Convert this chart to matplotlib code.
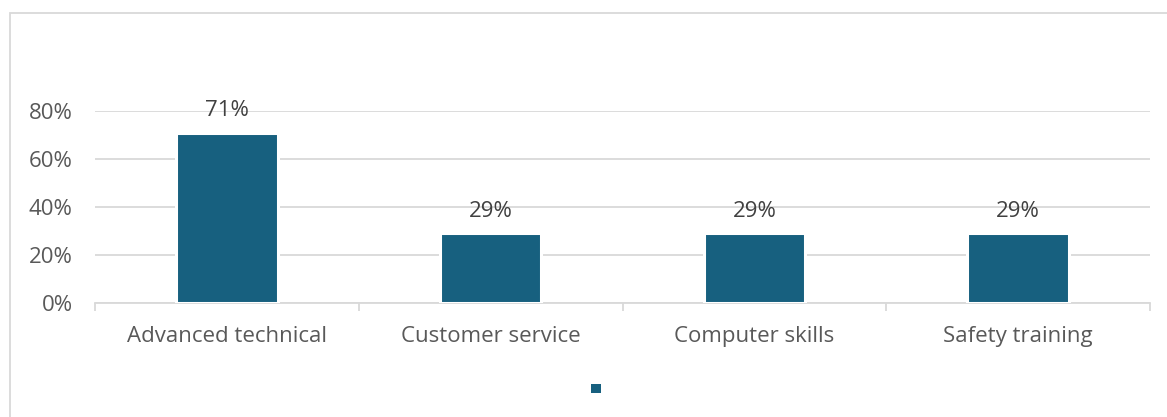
import matplotlib
matplotlib.use("Agg")
import matplotlib.pyplot as plt
from matplotlib.patches import Rectangle, Patch
from matplotlib.ticker import PercentFormatter, FixedLocator

categories = ["Advanced technical", "Customer service", "Computer skills", "Safety training"]
values = [0.71, 0.29, 0.29, 0.29]
y_ticks = [0.0, 0.2, 0.4, 0.6, 0.8]

bar_color = "#17607f"
grid_color = "#d9d9d9"
text_color = "#595959"
label_color = "#404040"

plt.rcParams["font.family"] = ["Open Sans", "DejaVu Sans"]
FS = 16

W, H = 1167, 417
fig = plt.figure(figsize=(W / 100, H / 100), dpi=100)
fig.patch.set_facecolor("white")

# chart-area frame
fig.add_artist(Rectangle((10 / W, -0.1), 1.2, 1 - 13 / H + 0.1, transform=fig.transFigure,
                         fill=False, edgecolor=grid_color, linewidth=1.3))

ax = fig.add_axes([95 / W, 1 - 303 / H, (1150 - 95) / W, (303 - 111) / H])
x = list(range(len(categories)))
bars = ax.bar(x, values, width=0.385, color=bar_color, edgecolor="white",
              linewidth=2.2, zorder=3)

ax.set_xlim(-0.5, len(categories) - 0.5)
ax.set_ylim(0, 0.8)
ax.yaxis.set_major_locator(FixedLocator(y_ticks))
ax.yaxis.set_major_formatter(PercentFormatter(1.0, decimals=0))
ax.grid(axis="y", color=grid_color, linewidth=1.3, zorder=0)
ax.set_axisbelow(True)

for s in ["top", "right", "left"]:
    ax.spines[s].set_visible(False)
ax.spines["bottom"].set_color(grid_color)
ax.spines["bottom"].set_linewidth(1.3)
ax.spines["bottom"].set_zorder(1)

ax.set_xticks(x)
ax.set_xticklabels(categories)
ax.set_xticks([i - 0.5 for i in range(len(categories) + 1)], minor=True)
ax.tick_params(axis="x", which="major", length=0, pad=16.5, labelsize=FS, labelcolor=text_color)
ax.tick_params(axis="x", which="minor", length=6, width=1.3, color=grid_color, direction="out")
ax.tick_params(axis="y", length=0, pad=16, labelsize=FS, labelcolor=text_color)

ax.bar_label(bars, labels=[f"{v:.0%}" for v in values], padding=8,
             fontsize=FS, color=label_color)

fig.legend(handles=[Patch(facecolor=bar_color, edgecolor="none")], labels=[""],
           loc="center", bbox_to_anchor=(596 / W, 1 - 390 / H), frameon=False,
           handlelength=0.65, handleheight=0.65, handletextpad=0, borderpad=0)

fig.savefig("out.png", dpi=100)
